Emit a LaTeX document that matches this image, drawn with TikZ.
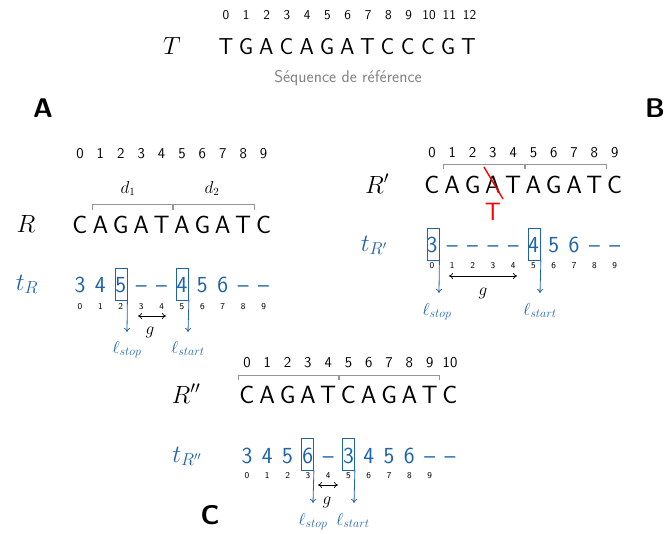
\documentclass[tikz,border=0pt]{standalone}
\usetikzlibrary{arrows.meta}
\definecolor{tblue}{RGB}{31,100,170}
\definecolor{bgray}{RGB}{150,150,150}
\definecolor{cgray}{RGB}{130,130,130}
\begin{document}
\begin{tikzpicture}[x=1pt,y=-1pt,
  every node/.style={inner sep=0pt, anchor=base},
  topidx/.style={font=\fontsize{13.5}{13.5}\selectfont\sffamily},
  idx/.style={font=\fontsize{15}{15}\selectfont\sffamily},
  sml/.style={font=\fontsize{9}{9}\selectfont\sffamily},
  seq/.style={font=\fontsize{25}{25}\selectfont\sffamily},
  topseq/.style={font=\fontsize{23}{23}\selectfont\sffamily},
  tval/.style={font=\fontsize{23}{23}\selectfont\sffamily, text=tblue},
  mlabel/.style={font=\fontsize{25}{25}\selectfont},
  tlabel/.style={font=\fontsize{26}{26}\selectfont, text=tblue},
  ell/.style={font=\fontsize{18}{18}\selectfont, text=tblue},
  gl/.style={font=\fontsize{17}{17}\selectfont},
  dl/.style={font=\fontsize{16}{16}\selectfont},
  panel/.style={font=\fontsize{27}{27}\selectfont\sffamily\bfseries, anchor=center},
  brk/.style={draw=bgray, line width=0.8pt},
  hbox/.style={draw=tblue, line width=0.8pt, anchor=center, minimum width=12pt, minimum height=32pt},
  darr/.style={draw=tblue, line width=0.8pt, -{To[length=4pt,width=6pt]}},
  garr/.style={draw=black, line width=0.7pt, {To[length=4pt,width=6pt]}-{To[length=4pt,width=6pt]}}
]
\useasboundingbox (0,0) rectangle (664,533);

% ---------- reference T ----------
\foreach \n [count=\i from 0] in {0,1,2,3,4,5,6,7,8,9,10,11,12}
  \node[topidx] (ti\i) at (226+20.3*\i,19) {\n};
\node[mlabel] (T) at (172,54) {$T$};
\foreach \c [count=\i from 0] in {T,G,A,C,A,G,A,T,C,C,C,G,T}
  \node[topseq] (ts\i) at (226+20.2*\i,54) {\c};
\node[font=\fontsize{17}{17}\selectfont\sffamily, text=cgray] (cap) at (348,82) {Séquence de référence};

% ---------- panel labels ----------
\node[panel] (pA) at (43,108) {A};
\node[panel] (pB) at (655,108) {B};
\node[panel] (pC) at (210,515) {C};

% ---------- panel A ----------
\foreach \n in {0,...,9}
  \node[idx] (ai\n) at (80+20.4*\n,158) {\n};
\node[dl] (d1) at (128,193) {$d_1$};
\node[dl] (d2) at (212,193) {$d_2$};
\draw[brk] (92,210) -- (92,204) -- (172,204) -- (172,210);
\draw[brk] (173,210) -- (173,204) -- (254,204) -- (254,210);
\node[mlabel] (R) at (26,232) {$R$};
\foreach \c [count=\i from 0] in {C,A,G,A,T,A,G,A,T,C}
  \node[seq] (ra\i) at (80+20.4*\i,233) {\c};
\node[tlabel] (tR) at (27,290) {$t_R$};
\foreach \c [count=\i from 0] in {3,4,5,--,--,4,5,6,--,--}
  \node[tval] (ta\i) at (80+20.4*\i,292) {\c};
\foreach \n in {0,...,9}
  \node[sml] (as\n) at (80+20.4*\n,309) {\n};
\node[hbox] (bA1) at (121,284) {};
\node[hbox] (bA2) at (182.5,284) {};
\coordinate (eA1) at (127,332);
\coordinate (eA2) at (188,332);
\draw[darr] (bA1.south east) -- (eA1);
\draw[darr] (bA2.south east) -- (eA2);
\coordinate (gA1) at (138,316);
\coordinate (gA2) at (166,316);
\draw[garr] (gA1) -- (gA2);
\node[gl] (gA) at (150,334) {$g$};
\node[ell] (lsA) at (127,353) {$\ell_{stop}$};
\node[ell] (lgA) at (188,353) {$\ell_{start}$};

% ---------- panel B ----------
\foreach \n in {0,...,9}
  \node[idx] (bi\n) at (432+20.3*\n,157) {\n};
\draw[brk] (443,169) -- (443,164) -- (524,164) -- (524,169);
\draw[brk] (525,169) -- (525,164) -- (606,164) -- (606,169);
\node[mlabel] (Rp) at (377,193) {$R'$};
\foreach \c [count=\i from 0] in {C,A,G,A,T,A,G,A,T,C}
  \node[seq] (rb\i) at (432+20.3*\i,193) {\c};
\coordinate (x1) at (484,167);
\coordinate (x2) at (503,199);
\draw[red, line width=1.4pt] (x1) -- (x2);
\node[seq, text=red] (mut) at (493,220) {T};
\node[tlabel] (tRp) at (374,251) {$t_{R'}$};
\foreach \c [count=\i from 0] in {3,--,--,--,--,4,5,6,--,--}
  \node[tval] (tb\i) at (432+20.3*\i,252) {\c};
\foreach \n in {0,...,9}
  \node[sml] (bs\n) at (432+20.3*\n,268) {\n};
\node[hbox] (bB1) at (433,244) {};
\node[hbox] (bB2) at (534.5,244) {};
\coordinate (eB1) at (439,293);
\coordinate (eB2) at (540,293);
\draw[darr] (bB1.south east) -- (eB1);
\draw[darr] (bB2.south east) -- (eB2);
\coordinate (gB1) at (449,276);
\coordinate (gB2) at (517,276);
\draw[garr] (gB1) -- (gB2);
\node[gl] (gB) at (483,295) {$g$};
\node[ell] (lsB) at (437,315) {$\ell_{stop}$};
\node[ell] (lgB) at (540,315) {$\ell_{start}$};

% ---------- panel C ----------
\foreach \n in {0,...,10}
  \node[idx] (ci\n) at (247+20.3*\n,367) {\n};
\draw[brk] (238,380) -- (238,375) -- (338,375) -- (338,380);
\draw[brk] (339,380) -- (339,375) -- (439,375) -- (439,380);
\node[mlabel] (Rpp) at (186,403) {$R''$};
\foreach \c [count=\i from 0] in {C,A,G,A,T,C,A,G,A,T,C}
  \node[seq] (rc\i) at (247+20.3*\i,403) {\c};
\node[tlabel] (tRpp) at (187,462) {$t_{R''}$};
\foreach \c [count=\i from 0] in {3,4,5,6,--,3,4,5,6,--,--}
  \node[tval] (tc\i) at (247+20.3*\i,463) {\c};
\foreach \n in {0,...,9}
  \node[sml] (cs\n) at (247+20.3*\n,478) {\n};
\node[hbox] (bC1) at (307.5,454) {};
\node[hbox] (bC2) at (348.5,454) {};
\coordinate (eC1) at (313,503);
\coordinate (eC2) at (354,503);
\draw[darr] (bC1.south east) -- (eC1);
\draw[darr] (bC2.south east) -- (eC2);
\coordinate (gC1) at (318,485);
\coordinate (gC2) at (338,485);
\draw[garr] (gC1) -- (gC2);
\node[gl] (gC) at (327,504) {$g$};
\node[ell] (lsC) at (313,525) {$\ell_{stop}$};
\node[ell] (lgC) at (353,525) {$\ell_{start}$};
\end{tikzpicture}
\end{document}
